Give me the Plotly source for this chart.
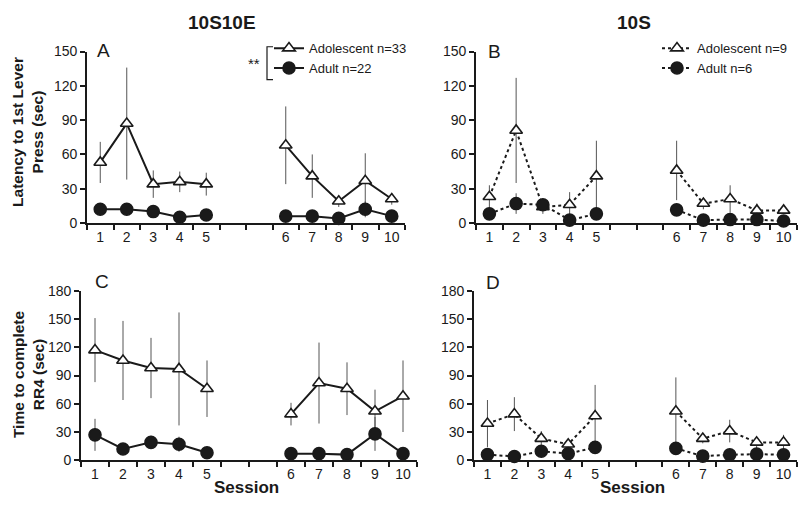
import plotly.graph_objects as go

# ---------------- data ----------------
categories = ["1", "2", "3", "4", "5", "", "", "6", "7", "8", "9", "10"]
sessions = [1, 2, 3, 4, 5, 6, 7, 8, 9, 10]

# Panel A: 10S10E latency to 1st lever press
a_adol = [53, 87, 34, 36, 34, 68, 41, 19, 37, 21]
a_adol_err = [18, 49, 12, 9, 10, 34, 19, 5, 24, 5]
a_adult = [12, 12, 10, 5, 7, 6, 6, 4, 12, 6]
a_adult_err = [2, 2, 2, 2, 2, 2, 2, 2, 7, 2]

# Panel B: 10S latency to 1st lever press
b_adol = [23, 81, 14, 16, 41, 46, 17, 21, 11, 11]
b_adol_err = [10, 46, 6, 11, 31, 26, 5, 12, 6, 3]
b_adult = [8, 17, 16, 2.5, 8, 11.5, 2.5, 3, 3, 1.7]
b_adult_err = [4, 9, 4, 2, 2, 2, 2, 2, 3, 1]

# Panel C: 10S10E time to complete RR4
c_adol = [117, 106, 98, 97, 76, 49, 82, 76, 52, 68]
c_adol_err = [34, 42, 32, 60, 30, 12, 43, 28, 23, 38]
c_adult = [27, 12, 19, 17, 8, 7, 7, 6, 28, 7]
c_adult_err = [17, 4, 7, 8, 2, 2, 2, 2, 18, 2]

# Panel D: 10S time to complete RR4
d_adol = [39, 49, 23, 17, 47, 52, 23, 31, 19, 19]
d_adol_err = [25, 18, 8, 5, 33, 36, 5, 12, 6, 8]
d_adult = [6, 4, 9.6, 7, 13.7, 12.6, 4.4, 5.8, 6.5, 5.8]
d_adult_err = [2, 2, 2, 2, 2, 2, 2, 2, 2, 2]

y_ticks_top = [0, 30, 60, 90, 120, 150]
y_ticks_bottom = [0, 30, 60, 90, 120, 150, 180]

FONT = "Liberation Sans, Arial, sans-serif"
INK = "#1a1a1a"


def positions(vals):
    """Map sessions to category-centre positions, breaking the line between 5 and 6."""
    xs, ys = [], []
    prev = None
    for s, v in zip(sessions, vals):
        idx = categories.index(str(s))
        if prev is not None and idx - prev > 1:
            xs.append(None)
            ys.append(None)
        xs.append(idx + 0.5)
        ys.append(v)
        prev = idx
    return xs, ys


def err_arr(errs):
    out = []
    prev = None
    for s, e in zip(sessions, errs):
        idx = categories.index(str(s))
        if prev is not None and idx - prev > 1:
            out.append(None)
        out.append(e)
        prev = idx
    return out


fig = go.Figure()


def add_series(vals, errs, xa, ya, symbol, fill, dash, name, legend, show):
    xs, ys = positions(vals)
    fig.add_trace(go.Scatter(
        x=xs, y=ys, xaxis=xa, yaxis=ya, mode="lines+markers",
        name=name, legend=legend, showlegend=show, connectgaps=False,
        line=dict(color=INK, width=2, dash=dash),
        marker=dict(symbol=symbol, size=12 if symbol == "circle" else 11, color=fill,
                    line=dict(color=INK, width=1.6)),
        error_y=dict(type="data", array=err_arr(errs), symmetric=True,
                     color="#555555", thickness=1, width=0),
        cliponaxis=False,
    ))


panels = [
    ("x", "y", a_adol, a_adol_err, a_adult, a_adult_err, "solid", "legend", True,
     "Adolescent n=33", "Adult n=22"),
    ("x2", "y2", b_adol, b_adol_err, b_adult, b_adult_err, "dot", "legend2", True,
     "Adolescent n=9", "Adult n=6"),
    ("x3", "y3", c_adol, c_adol_err, c_adult, c_adult_err, "solid", "legend", False,
     "Adolescent", "Adult"),
    ("x4", "y4", d_adol, d_adol_err, d_adult, d_adult_err, "dot", "legend2", False,
     "Adolescent", "Adult"),
]
for xa, ya, adol, adol_e, adult, adult_e, dash, leg, show, n1, n2 in panels:
    add_series(adol, adol_e, xa, ya, "triangle-up", "white", dash, n1, leg, show)
    add_series(adult, adult_e, xa, ya, "circle", INK, dash, n2, leg, show)

W, H = 800, 507
def px_x(p):
    return p / W
def px_y(p):
    return 1 - p / H

domains = {
    1: ([px_x(87), px_x(405)], [px_y(222), px_y(45)], 150, y_ticks_top),
    2: ([px_x(476), px_x(797)], [px_y(222), px_y(45)], 150, y_ticks_top),
    3: ([px_x(81), px_x(417)], [px_y(467), px_y(292)], 180, y_ticks_bottom),
    4: ([px_x(474), px_x(797)], [px_y(467), px_y(292)], 180, y_ticks_bottom),
}

boundaries = list(range(len(categories) + 1))
centres = [i + 0.5 for i in range(len(categories))]

layout = dict(
    width=W, height=H, margin=dict(l=0, r=0, t=0, b=0),
    paper_bgcolor="white", plot_bgcolor="white",
    font=dict(family=FONT, color=INK, size=13),
    showlegend=True,
)
for i, (xd, yd, ymax, yt) in domains.items():
    sx = "" if i == 1 else str(i)
    layout["xaxis" + sx] = dict(
        domain=xd, anchor="y" + sx, range=[0, len(categories)],
        tickmode="array", tickvals=centres, ticktext=categories,
        ticks="", showgrid=False, zeroline=False,
        showline=True, linecolor=INK, linewidth=1.6,
        tickfont=dict(size=14, color=INK, family=FONT),
        minor=dict(tickmode="array", tickvals=boundaries, ticks="outside",
                   ticklen=5, tickwidth=1.5, tickcolor=INK, showgrid=False),
        fixedrange=True,
    )
    # overlay axis providing the inner half of the crossing ticks
    ov = str(i + 4)
    layout["xaxis" + ov] = dict(
        domain=xd, anchor="y" + sx, overlaying="x" + sx, range=[0, len(categories)],
        tickmode="array", tickvals=boundaries, ticks="inside", ticklen=4,
        tickwidth=1.5, tickcolor=INK, showticklabels=False, showgrid=False,
        zeroline=False, showline=False, side="bottom",
    )
    layout["yaxis" + sx] = dict(
        domain=yd, anchor="x" + sx, range=[0, ymax],
        tickmode="array", tickvals=yt, ticks="outside", ticklen=5,
        tickwidth=1.5, tickcolor=INK, showgrid=False, zeroline=False,
        showline=True, linecolor=INK, linewidth=1.6,
        tickfont=dict(size=14, color=INK, family=FONT),
    )

layout["legend"] = dict(
    x=px_x(269), y=px_y(26), xanchor="left", yanchor="top",
    bgcolor="rgba(0,0,0,0)", font=dict(size=13, color=INK, family=FONT),
    itemwidth=30, tracegroupgap=0,
)
layout["legend2"] = dict(
    x=px_x(657), y=px_y(26), xanchor="left", yanchor="top",
    bgcolor="rgba(0,0,0,0)", font=dict(size=13, color=INK, family=FONT),
    itemwidth=30, tracegroupgap=0,
)

fig.update_layout(**layout)

bold = dict(family=FONT, color=INK, size=19, weight="bold")
letter = dict(family=FONT, size=19, color=INK)
ann = [
    dict(text="10S10E", x=px_x(222), y=px_y(15), font=bold),
    dict(text="10S", x=px_x(634), y=px_y(15), font=bold),
    dict(text="A", x=px_x(103), y=px_y(44), font=letter),
    dict(text="B", x=px_x(494), y=px_y(45), font=letter),
    dict(text="C", x=px_x(102), y=px_y(282), font=letter),
    dict(text="D", x=px_x(493), y=px_y(283), font=letter),
    dict(text="Latency to 1st Lever<br>Press (sec)", x=px_x(28), y=px_y(128),
         textangle=-90, font=dict(family=FONT, size=15.5, color=INK, weight="bold")),
    dict(text="Time to complete<br>RR4 (sec)", x=px_x(28), y=px_y(378),
         textangle=-90, font=dict(family=FONT, size=15.5, color=INK, weight="bold")),
    dict(text="Session", x=px_x(246), y=px_y(495),
         font=dict(family=FONT, size=17, color=INK, weight="bold")),
    dict(text="Session", x=px_x(632), y=px_y(495),
         font=dict(family=FONT, size=17, color=INK, weight="bold")),
    dict(text="**", x=px_x(254), y=px_y(57),
         font=dict(family=FONT, size=15, color=INK)),
]
for a in ann:
    a.update(xref="paper", yref="paper", showarrow=False, xanchor="center", yanchor="middle")
fig.update_layout(annotations=ann)

# significance bracket
bx0, bx1, by0, by1 = px_x(267), px_x(273), px_y(40), px_y(74)
fig.update_layout(shapes=[
    dict(type="path", xref="paper", yref="paper",
         path=f"M {bx1} {by0} L {bx0} {by0} L {bx0} {by1} L {bx1} {by1}",
         line=dict(color=INK, width=1.2)),
])

fig.write_html("out.html", config={"displayModeBar": False},
               post_script="document.body.style.margin='0';document.body.style.overflow='hidden';")
